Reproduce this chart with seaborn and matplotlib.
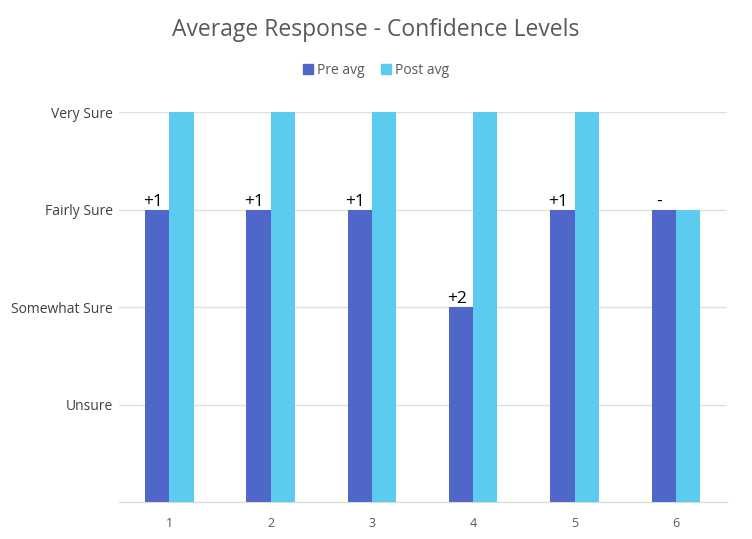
import pandas as pd
import matplotlib.pyplot as plt
import seaborn as sns

# data
questions = ['1', '2', '3', '4', '5', '6']
pre_avg = [3, 3, 3, 2, 3, 3]
post_avg = [4, 4, 4, 4, 4, 3]
change_labels = ['+1', '+1', '+1', '+2', '+1', '-']
level_labels = ['', 'Unsure', 'Somewhat Sure', 'Fairly Sure', 'Very Sure']

df = pd.DataFrame({
    'Question': questions * 2,
    'Score': pre_avg + post_avg,
    'Series': ['Pre avg'] * len(questions) + ['Post avg'] * len(questions),
})

sns.set_style('white')
plt.rcParams['font.family'] = ['Open Sans', 'DejaVu Sans']

fig = plt.figure(figsize=(7.52, 5.39), dpi=100)
ax = fig.add_axes([0.1576, 0.0686, 0.8085, 0.7236])

sns.barplot(data=df, x='Question', y='Score', hue='Series',
            palette=['#4F67C8', '#5BCBF0'], saturation=1, width=0.48, ax=ax,
            edgecolor='none', linewidth=0, legend=False)

ax.set_ylim(0, 4)
ax.set_yticks(range(len(level_labels)))
ax.set_yticklabels(level_labels, fontsize=10, color='#404040')
ax.tick_params(axis='y', length=0, pad=4)
ax.tick_params(axis='x', length=0, pad=11, labelsize=9, labelcolor='#595959')
ax.yaxis.grid(True, color='#E0E0E0', linewidth=1)
ax.set_axisbelow(True)
for side in ['top', 'right', 'left']:
    ax.spines[side].set_visible(False)
ax.spines['bottom'].set_color('#D9D9D9')
ax.set_xlabel('')
ax.set_ylabel('')

# change labels above the pre bars
pre_bars = ax.containers[0]
for bar, txt in zip(pre_bars, change_labels):
    ax.annotate(txt, (bar.get_x() + bar.get_width() / 2, bar.get_height()),
                xytext=(-3, 0), textcoords='offset points',
                ha='center', va='bottom', fontsize=12.5, color='black')

fig.text(0.5, 0.945, 'Average Response - Confidence Levels', ha='center', va='center',
         fontsize=16.5, color='#595959')

handles = [plt.Rectangle((0, 0), 1, 1, color='#4F67C8'),
           plt.Rectangle((0, 0), 1, 1, color='#5BCBF0')]
fig.legend(handles, ['Pre avg', 'Post avg'], loc='center', bbox_to_anchor=(0.5, 0.87),
           ncol=2, frameon=False, fontsize=10, handlelength=0.7, handleheight=0.7,
           handletextpad=0.3, columnspacing=1.2, labelcolor='#595959')

fig.savefig('out.png', dpi=100)
